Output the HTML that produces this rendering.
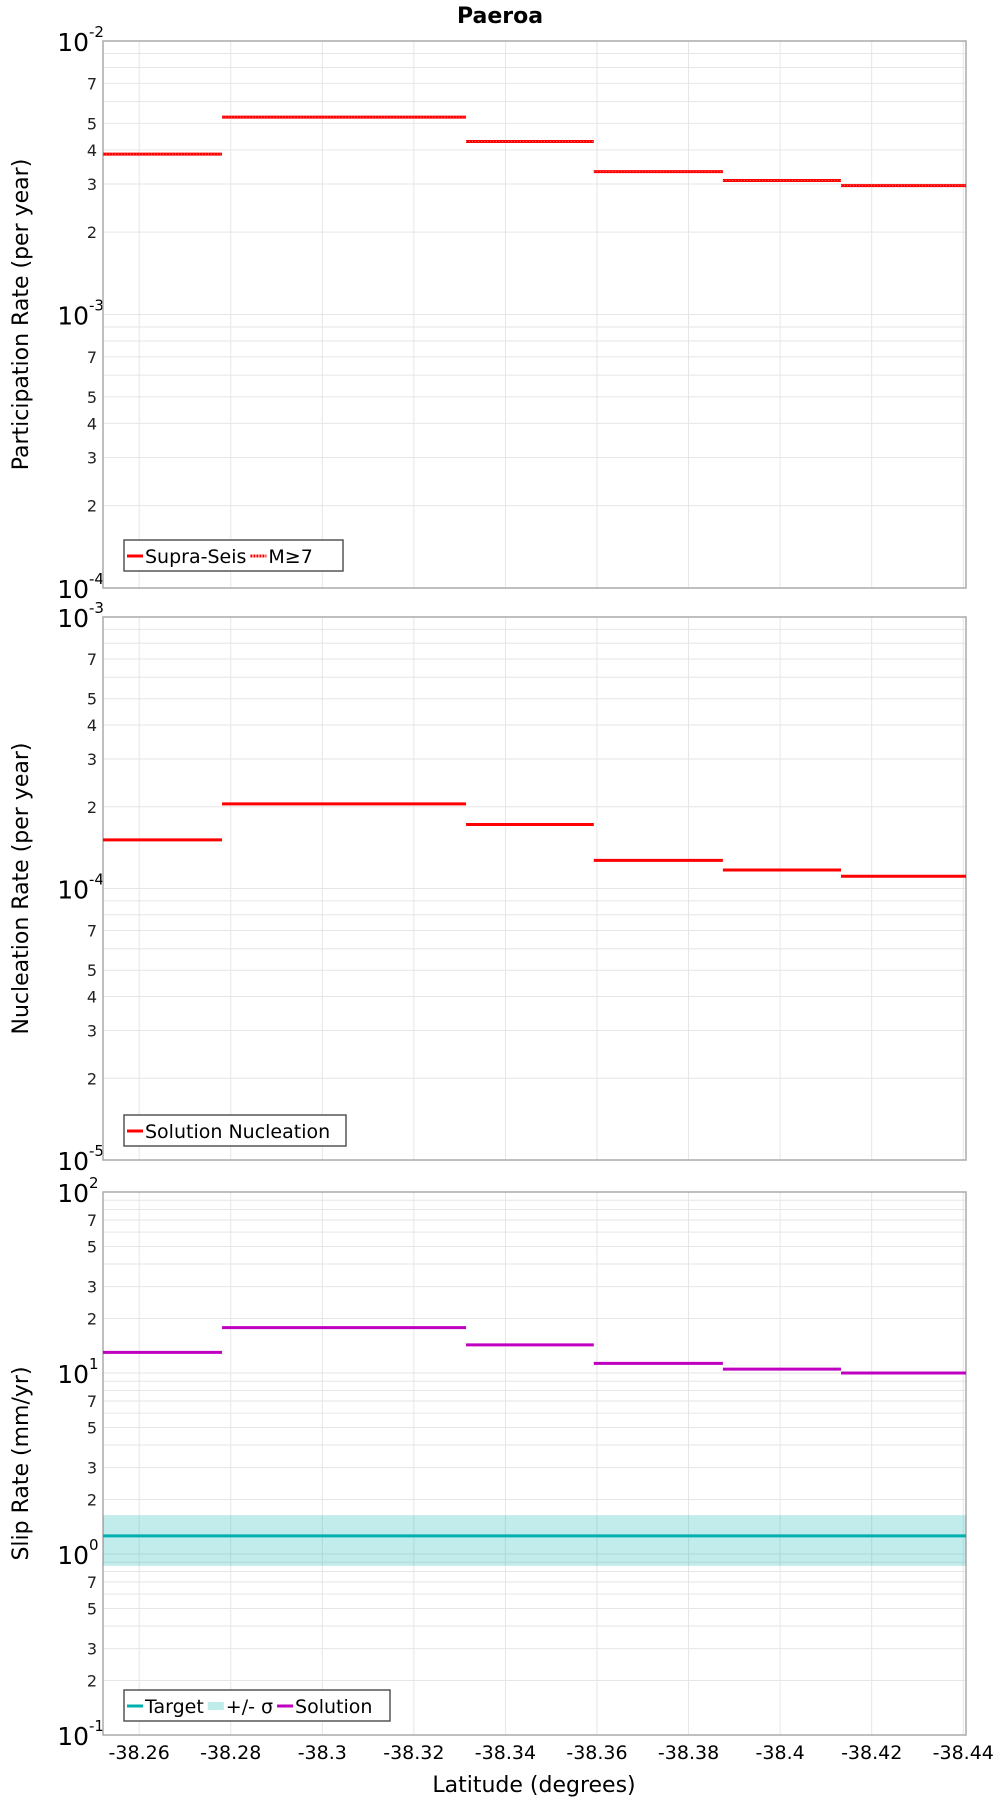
<!DOCTYPE html>
<html><head><meta charset="utf-8"><style>
html,body{margin:0;padding:0;background:#fff}
svg{display:block;font-family:"DejaVu Sans","Liberation Sans",sans-serif}
</style></head><body>
<svg id="chart" width="1000" height="1800" viewBox="0 0 1000 1800"></svg>
<script>
const latBounds = [-38.2521, -38.2781, -38.3314, -38.3593, -38.3875, -38.4133, -38.4406];
const xTicks = [-38.26, -38.28, -38.3, -38.32, -38.34, -38.36, -38.38, -38.4, -38.42, -38.44];
const xTickLabels = ["-38.26","-38.28","-38.3","-38.32","-38.34","-38.36","-38.38","-38.4","-38.42","-38.44"];
const partRates = [3.86e-3, 5.27e-3, 4.29e-3, 3.33e-3, 3.09e-3, 2.96e-3];
const nuclRates = [1.51e-4, 2.05e-4, 1.72e-4, 1.27e-4, 1.17e-4, 1.11e-4];
const slipSolution = [13.0, 17.8, 14.3, 11.3, 10.5, 10.0];
const slipTarget = [1.26];
const slipSigma = [0.86, 1.64];

const NS = "http://www.w3.org/2000/svg";
const svg = document.getElementById("chart");
const L = 103, R = 966;
function xs(v){ return L + (v - latBounds[0]) / (latBounds[latBounds.length-1] - latBounds[0]) * (R - L); }
function mk(tag, attrs, parent){
  const e = document.createElementNS(NS, tag);
  for (const k in attrs) e.setAttribute(k, attrs[k]);
  (parent || svg).appendChild(e);
  return e;
}
function txt(s, x, y, attrs, parent){ const t = mk("text", Object.assign({x:x, y:y}, attrs), parent); t.textContent = s; return t; }

const panels = [
  {name:"participation", top:41, bot:588, lo:-4, hi:-2, labels:[2,3,4,5,7], title:"Participation Rate (per year)"},
  {name:"nucleation", top:617, bot:1160, lo:-5, hi:-3, labels:[2,3,4,5,7], title:"Nucleation Rate (per year)"},
  {name:"slip", top:1192, bot:1735, lo:-1, hi:2, labels:[2,3,5,7], title:"Slip Rate (mm/yr)"}
];

txt("Paeroa", 500, 23, {"text-anchor":"middle","font-size":"22","font-weight":"bold",});

panels.forEach(function(p){
  const g = mk("g", {});
  
  
  p.ys = function(v){ return p.bot - (Math.log10(v) - p.lo) / (p.hi - p.lo) * (p.bot - p.top); };
  for (let d = p.lo; d < p.hi; d++) {
    for (let m = 1; m <= 9; m++) {
      const v = m * Math.pow(10, d);
      const y = p.ys(v);
      if (m > 1 || d > p.lo) {
        const gl = mk("line", {x1:L, x2:R, y1:y, y2:y, stroke:"#e6e6e6", "stroke-width":1}, g);
        
        
      }
      if (m > 1 && p.labels.indexOf(m) >= 0) {
        const tl = txt(String(m), 97, y + 6, {"text-anchor":"end","font-size":"16","fill":"#222"}, g);
        
        
      }
    }
  }
  for (let d = p.lo; d <= p.hi; d++) {
    const y = p.ys(Math.pow(10, d));
    const t = txt("10", 89, y + 10, {"text-anchor":"end","font-size":"25","fill":"#000"}, g);
    
    
    const sup = txt(String(d), 89, y - 4, {"font-size":"15","fill":"#000"}, g);
    
    
  }
  xTicks.forEach(function(v){
    const x = xs(v);
    const vl = mk("line", {x1:x, x2:x, y1:p.top, y2:p.bot, stroke:"#e6e6e6", "stroke-width":1}, g);
    
    
  });
  const fr = mk("rect", {x:L, y:p.top, width:R-L, height:p.bot-p.top, fill:"none", stroke:"#aaa", "stroke-width":1.5}, g);
  
  
  const cy = (p.top + p.bot) / 2;
  const at = txt(p.title, 28, cy, {"text-anchor":"middle","font-size":"22","transform":"rotate(-90 28 "+cy+")"}, g);
  
  
  p.g = g;
});

function steps(p, vals, color, name, dotted){
  for (let i = 0; i < vals.length; i++) {
    const y = p.ys(vals[i]);
    const ln = mk("line", {x1:xs(latBounds[i]), x2:xs(latBounds[i+1]), y1:y, y2:y, stroke:color, "stroke-width":3}, p.g);
    
    
    if (dotted) {
      const d = mk("line", {x1:xs(latBounds[i]), x2:xs(latBounds[i+1]), y1:y, y2:y, stroke:"#ff6060", "stroke-width":1, "stroke-dasharray":"1 2"}, p.g);
      
      
    }
  }
}
steps(panels[0], partRates, "#ff0000", "supra-seis", true);
steps(panels[1], nuclRates, "#ff0000", "solution-nucleation", false);

const sp = panels[2];
const band = mk("rect", {x:L, y:sp.ys(slipSigma[1]), width:R-L, height:sp.ys(slipSigma[0])-sp.ys(slipSigma[1]), fill:"#00b0b0", "fill-opacity":0.24}, sp.g);


const ty = sp.ys(slipTarget[0]);
const tl = mk("line", {x1:L, x2:R, y1:ty, y2:ty, stroke:"#00b0b0", "stroke-width":3}, sp.g);


steps(sp, slipSolution, "#c000c0", "solution-slip", false);

xTicks.forEach(function(v, i){
  const t = txt(xTickLabels[i], xs(v), 1759, {"text-anchor":"middle","font-size":"19"});
  
  
});
const xt = txt("Latitude (degrees)", 534, 1792, {"text-anchor":"middle","font-size":"22"});



function legend(y, w, items, name){
  const g = mk("g", {});
  
  
  const bx = mk("rect", {x:124, y:y, width:w, height:31, fill:"#fff", stroke:"#555", "stroke-width":1.5}, g);
  
  
  let x = 127;
  items.forEach(function(it){
    const sw = mk("line", {x1:x, x2:x+16, y1:y+16, y2:y+16, stroke:it.c, "stroke-width":it.band?8:3, "stroke-dasharray":it.dot?"2 1":"none", "stroke-opacity":it.band?0.25:1}, g);
    
    
    const t = txt(it.t, x + 18, y + 23, {"font-size":"19"}, g);
    
    
    x += 18 + t.getComputedTextLength() + 4;
  });
}
legend(540, 219, [{t:"Supra-Seis", c:"#ff0000"},{t:"M≥7", c:"#ff0000", dot:true}], "participation-legend");
legend(1115, 222, [{t:"Solution Nucleation", c:"#ff0000"}], "nucleation-legend");
legend(1690, 266, [{t:"Target", c:"#00b0b0"},{t:"+/- σ", c:"#00b0b0", band:true},{t:"Solution", c:"#c000c0"}], "slip-legend");
</script>
</body></html>
